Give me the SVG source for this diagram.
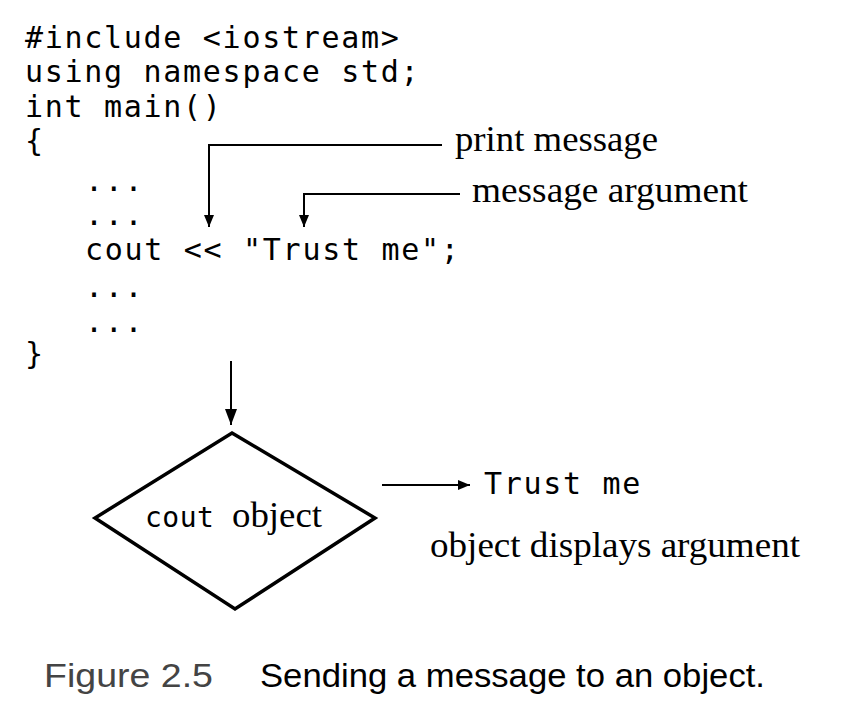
<svg xmlns="http://www.w3.org/2000/svg" width="842" height="724" viewBox="0 0 842 724">
<style>
.code{font-family:"DejaVu Sans Mono","Liberation Mono",monospace;font-size:30px;letter-spacing:1.7px;fill:#000}
.ser{font-family:"Liberation Serif","Times New Roman",serif;font-size:36px;fill:#000}
.cap{font-family:"Liberation Sans",Arial,sans-serif;font-size:34px}
.ln{stroke:#000;stroke-width:2;fill:none}
</style>
<defs>
<marker id="ah" markerUnits="userSpaceOnUse" markerWidth="14" markerHeight="12" refX="12" refY="5" orient="auto">
<path d="M0,0 L12,5 L0,10 Z" fill="#000"/>
</marker>
<marker id="ahb" markerUnits="userSpaceOnUse" markerWidth="18" markerHeight="14" refX="16" refY="6" orient="auto">
<path d="M0,0 L16,6 L0,12 Z" fill="#000"/>
</marker>
</defs>
<rect width="842" height="724" fill="#fff"/>
<g id="code">
<text class="code" x="25" y="48">#include &lt;iostream&gt;</text>
<text class="code" x="25" y="82">using namespace std;</text>
<text class="code" x="25" y="117">int main()</text>
<text class="code" x="25" y="151">{</text>
<text class="code" x="85" y="191">...</text>
<text class="code" x="85" y="225">...</text>
<text class="code" x="85" y="260">cout &lt;&lt; "Trust me";</text>
<text class="code" x="85" y="297">...</text>
<text class="code" x="85" y="332">...</text>
<text class="code" x="25" y="364">}</text>
</g>
<g id="labels">
<text class="ser" x="455" y="151" textLength="203" lengthAdjust="spacingAndGlyphs">print message</text>
<text class="ser" x="472" y="202" textLength="276" lengthAdjust="spacingAndGlyphs">message argument</text>
<text class="code" x="484" y="494">Trust me</text>
<text class="ser" x="430" y="557" textLength="370" lengthAdjust="spacingAndGlyphs">object displays argument</text>
</g>
<g id="cout-object">
<polygon points="232,433 375,518 235,609 95,518" fill="#fff" stroke="#000" stroke-width="3.5" stroke-linejoin="miter"/>
<text x="145" y="527"><tspan class="code" style="font-size:28px;letter-spacing:0.5px">cout</tspan><tspan class="ser" x="232" textLength="90" lengthAdjust="spacingAndGlyphs">object</tspan></text>
</g>
<g id="connectors">
<polyline class="ln" points="442,145 209,145 209,227" marker-end="url(#ah)"/>
<polyline class="ln" points="460,194 304,194 304,227" marker-end="url(#ah)"/>
<line class="ln" x1="231" y1="361" x2="231" y2="425" marker-end="url(#ahb)"/>
<line class="ln" x1="382" y1="485" x2="470" y2="485" marker-end="url(#ah)"/>
</g>
<g id="caption">
<text class="cap" x="44" y="687" fill="#444" textLength="169" lengthAdjust="spacingAndGlyphs">Figure 2.5</text>
<text class="cap" x="260" y="687" fill="#000" textLength="505" lengthAdjust="spacingAndGlyphs">Sending a message to an object.</text>
</g>
</svg>
